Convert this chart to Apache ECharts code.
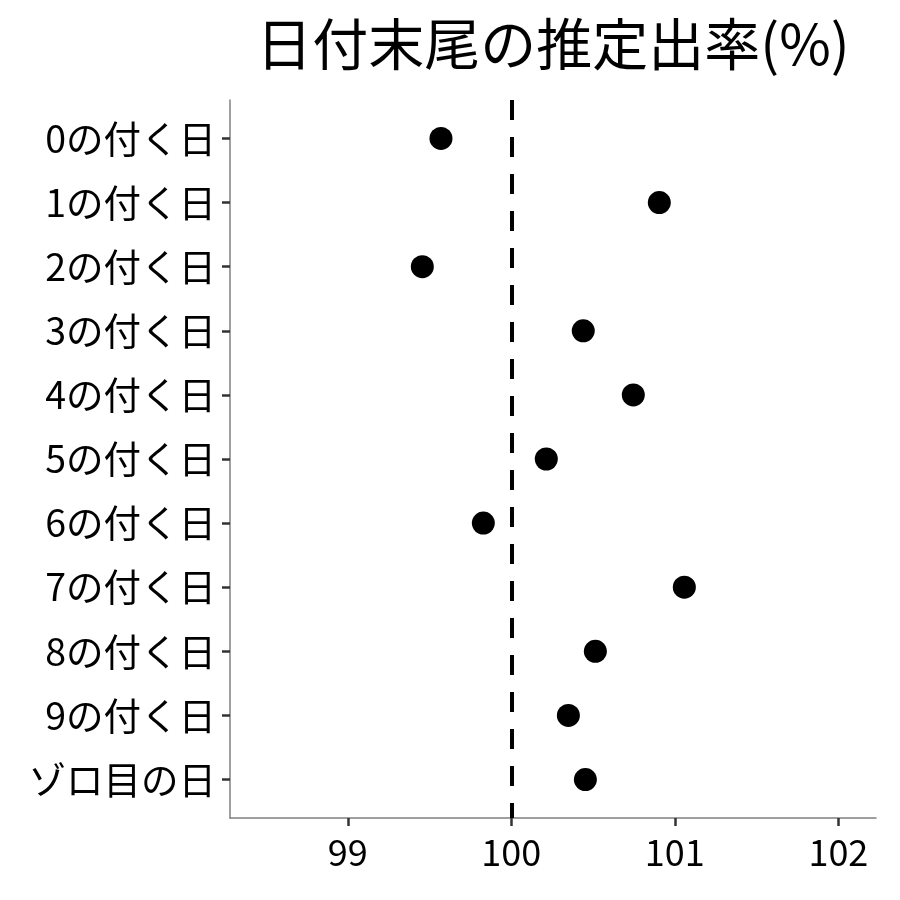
<!DOCTYPE html>
<html><head><meta charset="utf-8">
<script src="https://cdn.jsdelivr.net/npm/echarts@6/dist/echarts.min.js"></script>
<style>html,body{margin:0;padding:0;background:#fff}#c{width:900px;height:900px}</style>
</head><body><div id="c"></div>
<script>
const titleText = '日付末尾の推定出率(%)';
const categories = ['0の付く日','1の付く日','2の付く日','3の付く日','4の付く日','5の付く日','6の付く日','7の付く日','8の付く日','9の付く日','ゾロ目の日'];
const values = [99.57, 100.905, 99.456, 100.44, 100.746, 100.214, 99.829, 101.058, 100.514, 100.349, 100.453];
const xTicks = [99, 100, 101, 102];
const refValue = 100;

const FONT = 'Noto Sans CJK JP';
const chart = echarts.init(document.getElementById('c'), null, {renderer:'canvas'});
const idx = categories.map((_, i) => i);
chart.setOption({
  animation: false,
  backgroundColor: '#fff',
  grid: {left: 230, right: 24, top: 100, bottom: 82, containLabel: false},
  graphic: [{type:'text', x:553, y:44, style:{text:titleText, textAlign:'center', textVerticalAlign:'middle', font:'56px "Noto Sans CJK JP"', fill:'#000'}}],
  xAxis: {
    type: 'value', min: 98.28, max: 102.23,
    axisLine: {show:true, onZero:false, lineStyle:{color:'#808080', width:1.5}},
    axisTick: {show:true, customValues: xTicks, length: 8, lineStyle:{color:'#333', width:2.5}},
    axisLabel: {customValues: xTicks, fontFamily: FONT, fontSize: 36, color:'#000', margin: 16},
    splitLine: {show:false}
  },
  yAxis: {
    type: 'value', inverse: true, min: -0.6, max: 10.6,
    axisLine: {show:true, onZero:false, lineStyle:{color:'#808080', width:1.5}},
    axisTick: {show:true, customValues: idx, length: 8, lineStyle:{color:'#333', width:2.5}},
    axisLabel: {customValues: idx, formatter: v => categories[Math.round(v)], fontFamily: FONT, fontSize: 37.5, color:'#000', margin: 14},
    splitLine: {show:false}
  },
  series: [{
    type: 'scatter',
    data: values.map((v, i) => [v, i]),
    symbol: 'circle', symbolSize: 23,
    itemStyle: {color:'#000', opacity:1},
    markLine: {
      silent: true, symbol: ['none','none'], label:{show:false},
      lineStyle: {color:'#000', width:4, type:[20,17]},
      data: [{xAxis: refValue}]
    }
  }]
});
</script></body></html>
